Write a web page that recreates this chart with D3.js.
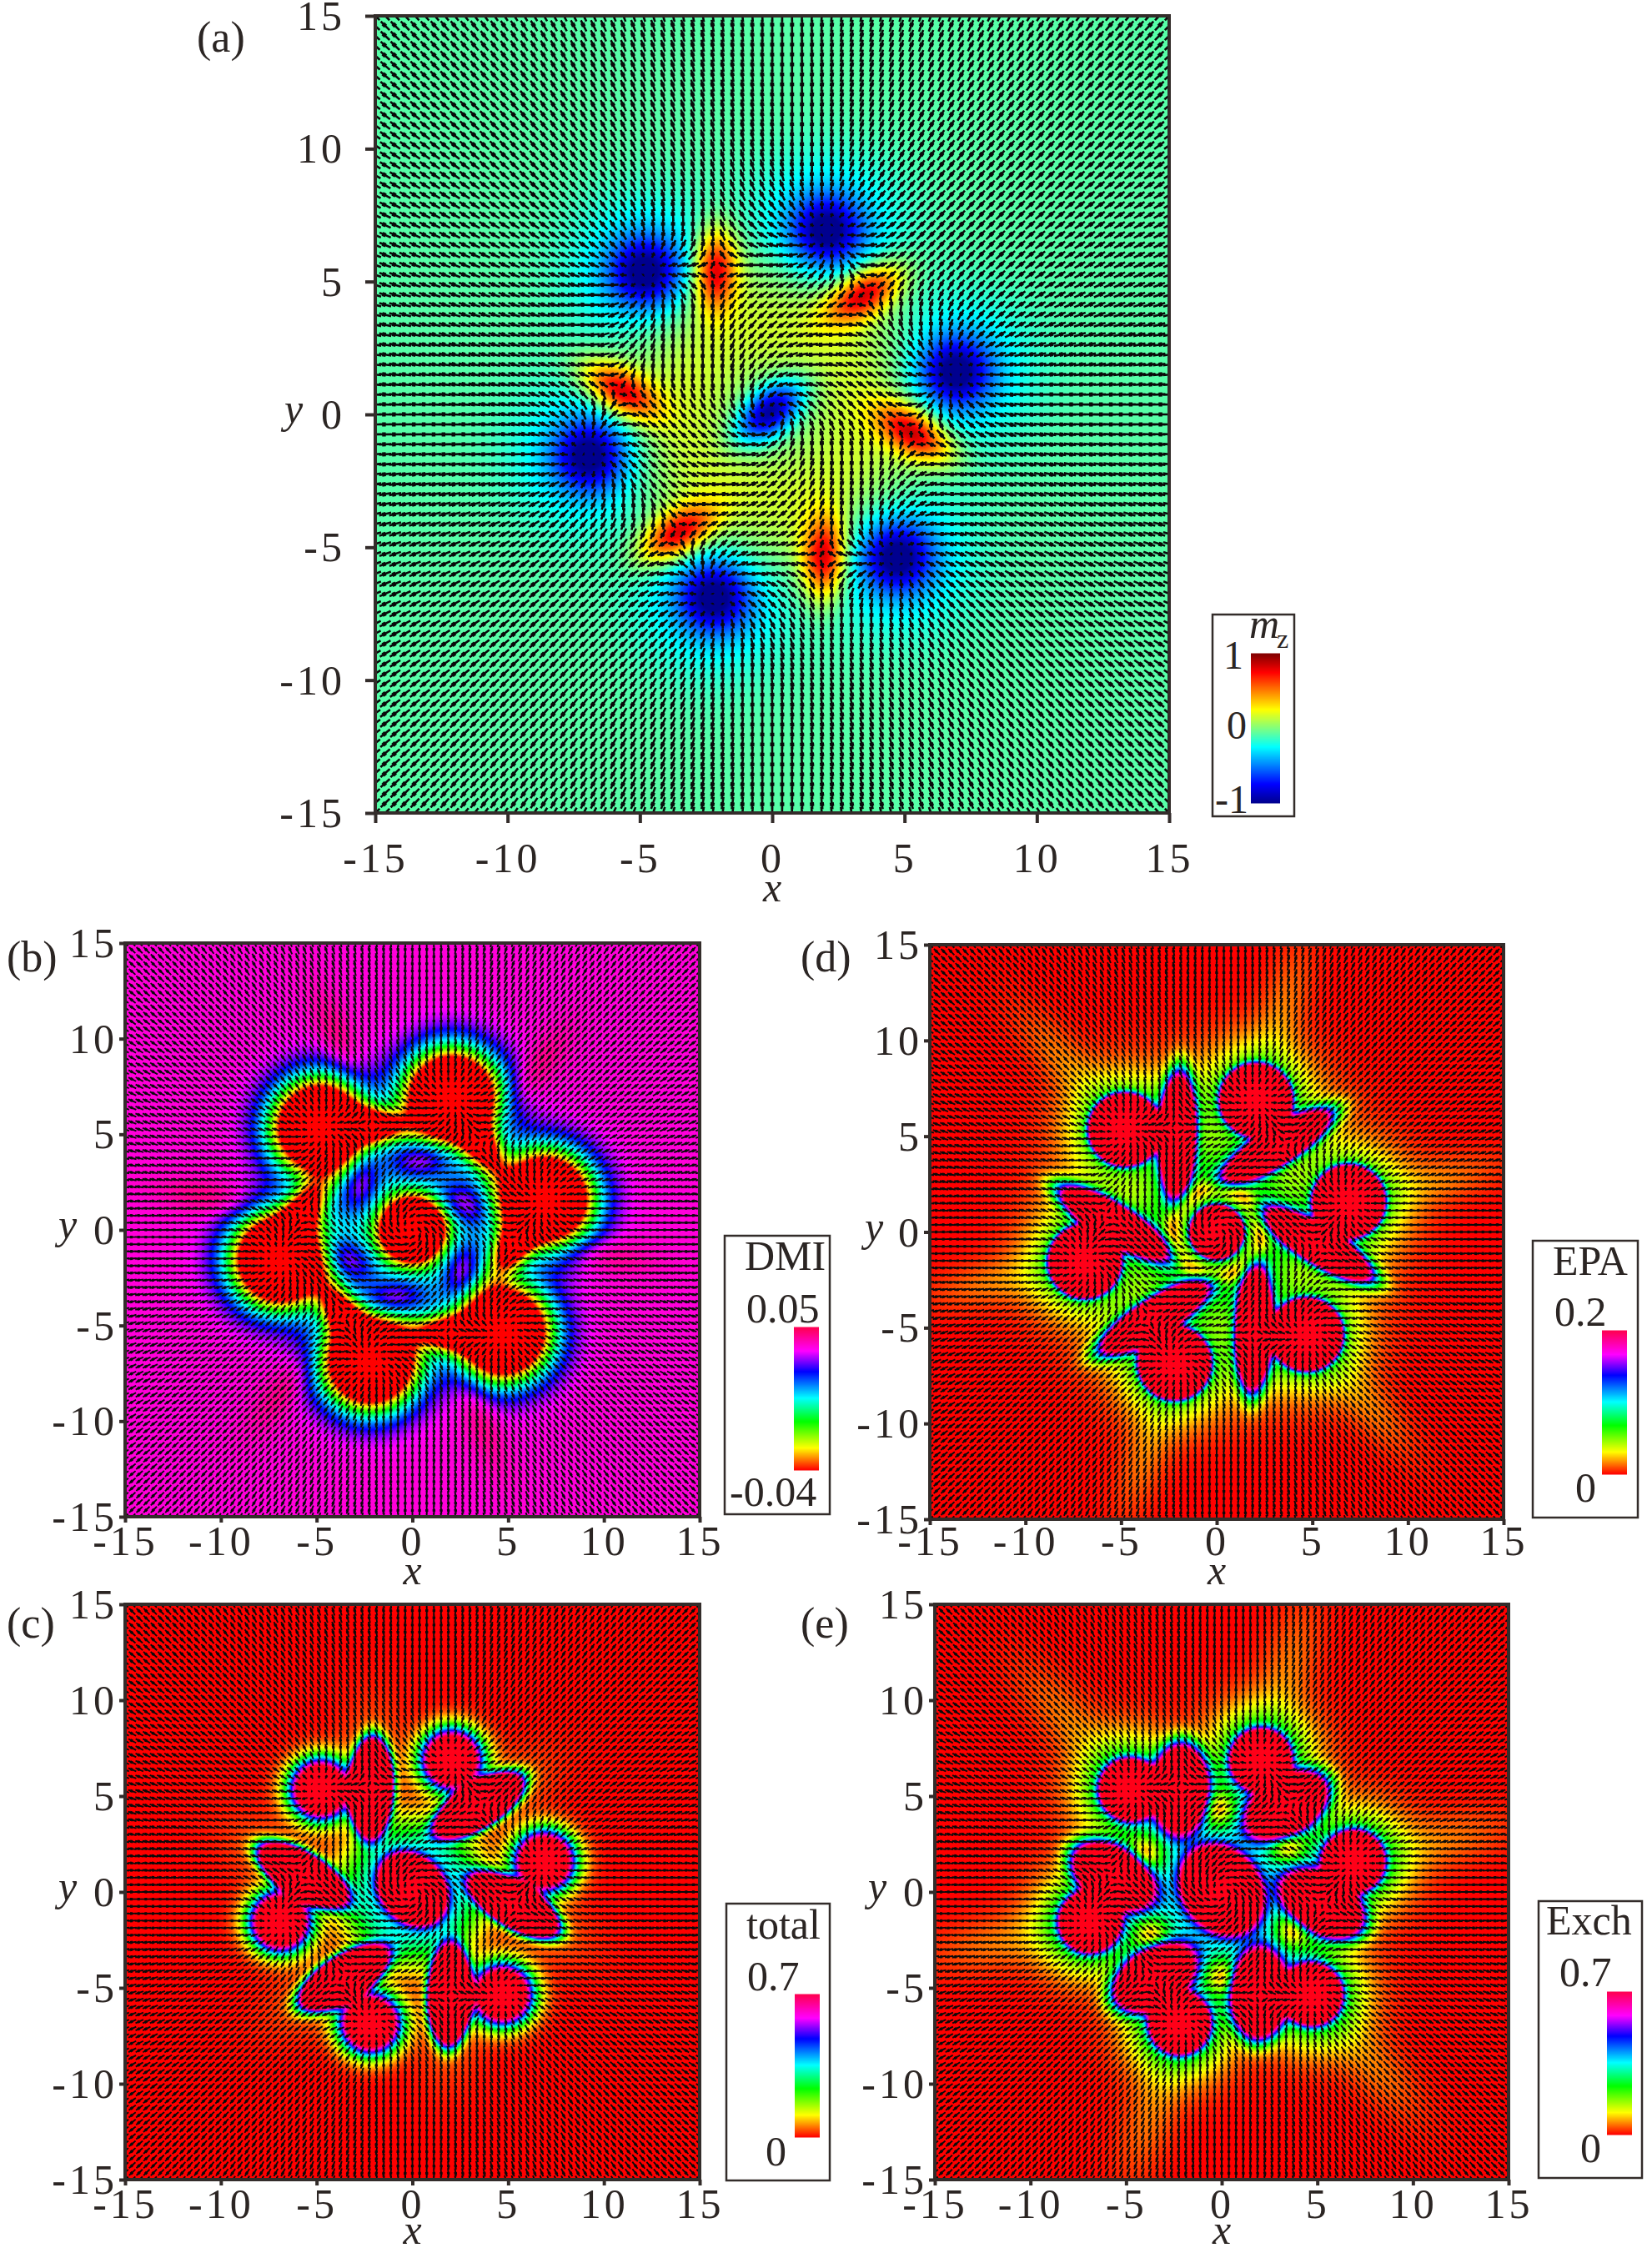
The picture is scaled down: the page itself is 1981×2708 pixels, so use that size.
<!DOCTYPE html>
<html>
<head>
<meta charset="utf-8">
<script src="https://cdn.jsdelivr.net/npm/d3@7"></script>
<style>
body { margin: 0; background: #fff; }
text { font-family: "Liberation Serif", serif; fill: #2b2523; }
</style>
</head>
<body>
<div id="chart"></div>
<script>
// features, in plot units
var vortexX = [-4.8, 2.05, 6.9, 4.7, -2.2, -6.9];
var vortexY = [5.35, 6.9, 1.6, -5.35, -6.85, -1.55];
var antiX = [-2.15, 3.5, 5.35, 1.95, -3.6, -5.75];
var antiY = [5.45, 4.55, -0.7, -5.4, -4.5, 0.9];
var antiDeg = [88, 32, -32, 88, 32, -32];
var leafX = [-2.05, 3.2, 5.35, 1.95, -3.3, -5.4];
var leafY = [5.1, 4.5, -0.7, -5.1, -4.5, 0.5];
var diamondX = [-2.7, 0.6, 2.8, 2.55, -1.05, -3.55];
var diamondY = [2.6, 3.7, 1.3, -2.3, -3.6, -1.4];
var diamondDeg = [80, 15, -30, 80, 15, -30];
var holeX = [-0.2, 3.4, 3.7, 0, -3.7, -4];
var holeY = [4.3, 2.4, -2, -4.4, -2.2, 2];

var axisTicks = [-15, -10, -5, 0, 5, 10, 15];
var gridCount = 81;

// colour bars
var jetStops = [0, 0.125, 0.375, 0.625, 0.875, 1];
var jetColors = ["#00008f", "#0000ff", "#00ffff", "#ffff00", "#ff0000", "#800000"];
var hueStops = [0, 0.155, 0.34, 0.505, 0.69, 0.835, 1, 1.12];
var hueColors = ["#ff0000", "#ffff00", "#00ff00", "#00ffff", "#0000ff", "#ff00ff", "#ff0050", "#ff0018"];

var jet = d3.scaleLinear().domain(jetStops).range(jetColors).clamp(true);
var hue = d3.scaleLinear().domain(hueStops).range(hueColors).clamp(true);

// one bump: x, y, sx, sy, angle, amplitude, power, ring radius
function blob(x, y, sx, sy, deg, amp, p, r0) {
  var a = deg * Math.PI / 180;
  return {x: x, y: y, sx: sx, sy: sy, c: Math.cos(a), s: Math.sin(a), amp: amp, p: p || 2, r0: r0 || 0};
}
function sumBlobs(list, base, px, py) {
  var v = base;
  list.forEach(function(b) {
    var dx = px - b.x, dy = py - b.y;
    var u = (dx * b.c + dy * b.s) / b.sx, w = (-dx * b.s + dy * b.c) / b.sy;
    var d = Math.sqrt(u * u + w * w);
    if (b.r0) d = Math.abs(d - b.r0);
    v += b.amp * Math.exp(-Math.pow(d, b.p));
  });
  return v;
}
function each(xs, ys, fn) {
  return xs.map(function(x, i) { return fn(x, ys[i], i); });
}
function rays(amp, len, wide) {
  return each(vortexX, vortexY, function(x, y) {
    return blob(x * 1.7, y * 1.7, len, wide, Math.atan2(y, x) * 180 / Math.PI, amp);
  });
}

var blobsMz = [].concat(
  [blob(0, 0, 5.9, 5.9, 0, 0.36, 4)],
  each(vortexX, vortexY, function(x, y) { return blob(x, y, 1.25, 1.25, 0, -0.75); }),
  each(vortexX, vortexY, function(x, y) { return blob(x, y, 2.6, 2.6, 0, -0.33); }),
  each(antiX, antiY, function(x, y, i) { return blob(x, y, 1.5, 0.8, antiDeg[i], 0.88); }),
  [blob(-0.1, 0.1, 1.4, 0.8, 40, -0.95), blob(0, 0, 2.6, 2.6, 0, -0.3)]
);

var blobsDmi = [].concat(
  [blob(0, 0, 4.2, 4.2, 0, -0.42, 4)],
  each(vortexX, vortexY, function(x, y) { return blob(x, y, 2.3, 2.3, 0, -2.1); }),
  each(antiX, antiY, function(x, y, i) { return blob(x, y, 0.85, 1.8, antiDeg[i], -0.9); }),
  each(diamondX, diamondY, function(x, y, i) { return blob(x, y, 1.6, 1.0, diamondDeg[i], 0.32); }),
  [blob(0, 0, 1.3, 1.3, 0, -2.5)],
  each(antiX, antiY, function(x, y, i) {
    return blob(x * 1.75, y * 1.75, 3, 0.9, Math.atan2(y, x) * 180 / Math.PI, 0.1);
  })
);

var blobsTotal = [].concat(
  [blob(0, 0, 3.7, 3.7, 0, 0.5, 4)],
  each(vortexX, vortexY, function(x, y) { return blob(x, y, 1.3, 1.3, 0, 2.7); }),
  each(antiX, antiY, function(x, y, i) { return blob(x, y, 2.4, 1.05, antiDeg[i], 3, 4); }),
  each(antiX, antiY, function(x, y, i) { return blob(x, y, 3.6, 1.6, antiDeg[i], 0.12); }),
  [blob(0, 0.15, 1.75, 1.4, -50, 3, 4)]
);

var blobsEpa = [].concat(
  [blob(0, 0, 4.2, 4.2, 0, 0.3, 5), blob(0, 0, 0.55, 0.55, 0, -0.28, 2, 4.2)],
  each(vortexX, vortexY, function(x, y) { return blob(x, y, 1.75, 1.75, 0, 3, 6); }),
  each(vortexX, vortexY, function(x, y) { return blob(x, y, 2.6, 2.6, 0, 0.5); }),
  each(leafX, leafY, function(x, y, i) { return blob(x, y, 2.8, 0.82, antiDeg[i], 3, 3); }),
  each(leafX, leafY, function(x, y, i) { return blob(x, y, 3.2, 1.5, antiDeg[i], 0.18); }),
  [blob(0, 0, 1.3, 1.3, 0, 3, 6)],
  rays(0.07, 3.2, 1.2)
);

var blobsExch = [].concat(
  [blob(0, 0, 5.8, 5.8, 0, 0.3, 6), blob(0, 0, 3.8, 3.8, 0, 0.25, 4)],
  each(vortexX, vortexY, function(x, y) { return blob(x, y, 1.4, 1.4, 0, 3, 4); }),
  each(vortexX, vortexY, function(x, y) { return blob(x, y, 2.4, 2.4, 0, 0.6); }),
  each(antiX, antiY, function(x, y, i) { return blob(x, y, 2.0, 1.25, antiDeg[i], 3, 3); }),
  each(holeX, holeY, function(x, y) { return blob(x, y, 0.9, 0.9, 0, -0.3); }),
  [blob(0, 0.1, 2.1, 1.7, -55, 3, 4)],
  rays(0.07, 3.4, 1.4)
);

// in-plane direction: vortices wind up, antivortices wind down
function angleAt(px, py) {
  var phi = Math.atan2(py, px);
  vortexX.forEach(function(x, i) { phi += Math.atan2(py - vortexY[i], px - x); });
  antiX.forEach(function(x, i) { phi -= Math.atan2(py - antiY[i], px - x); });
  return phi;
}

var panels = [
  {tag: "(a)", tagX: 236, tagY: 62, left: 450, right: 1402, top: 19, bottom: 975,
   blobs: blobsMz, base: -0.08, toColor: function(v) { return jet((v + 1) / 2); },
   shaft: 2.6, head: 5, reach: 0.62, tick: 12, yPad: 40, xBase: 71, xLabel: 106, yLabelX: 352,
   bar: {x0: 1500, x1: 1535, y0: 784, y1: 963, color: jet},
   box: [1454, 737, 1552, 979]},
  {tag: "(b)", tagX: 8, tagY: 1165, left: 150, right: 839, top: 1131, bottom: 1819,
   blobs: blobsDmi, base: 0.87, toColor: hue,
   shaft: 1.9, head: 3.4, reach: 0.6, tick: 7, yPad: 13, xBase: 46, xLabel: 81, yLabelX: 81,
   bar: {x0: 952, x1: 982, y0: 1592, y1: 1763, color: hue},
   box: [869, 1482, 995, 1816]},
  {tag: "(c)", tagX: 8, tagY: 1964, left: 150, right: 839, top: 1924, bottom: 2614,
   blobs: blobsTotal, base: 0, toColor: hue,
   shaft: 1.9, head: 3.4, reach: 0.6, tick: 7, yPad: 13, xBase: 46, xLabel: 77, yLabelX: 81,
   bar: {x0: 953, x1: 983, y0: 2392, y1: 2563, color: hue},
   box: [871, 2283, 995, 2615]},
  {tag: "(d)", tagX: 960, tagY: 1165, left: 1115, right: 1803, top: 1133, bottom: 1822,
   blobs: blobsEpa, base: 0, toColor: hue,
   shaft: 1.9, head: 3.4, reach: 0.6, tick: 7, yPad: 13, xBase: 43, xLabel: 78, yLabelX: 1048,
   bar: {x0: 1921, x1: 1951, y0: 1596, y1: 1768, color: hue},
   box: [1838, 1488, 1964, 1820]},
  {tag: "(e)", tagX: 960, tagY: 1964, left: 1121, right: 1809, top: 1924, bottom: 2614,
   blobs: blobsExch, base: 0, toColor: hue,
   shaft: 1.9, head: 3.4, reach: 0.6, tick: 7, yPad: 13, xBase: 46, xLabel: 77, yLabelX: 1052,
   bar: {x0: 1927, x1: 1957, y0: 2389, y1: 2560, color: hue},
   box: [1845, 2280, 1969, 2612]}
];

// colour bar texts: label, x, baseline, size, italic
var barTexts = [
  ["m", 1498, 765, 50, true], ["z", 1531, 777, 32, false], ["1", 1467, 802, 48], ["0", 1471, 886, 48], ["-1", 1457, 975, 48],
  ["DMI", 893, 1523, 50], ["0.05", 895, 1586, 50], ["-0.04", 875, 1806, 50],
  ["total", 895, 2325, 50], ["0.7", 896, 2387, 50], ["0", 918, 2597, 50],
  ["EPA", 1862, 1529, 50], ["0.2", 1864, 1590, 50], ["0", 1889, 1801, 50],
  ["Exch", 1854, 2320, 50], ["0.7", 1870, 2382, 50], ["0", 1895, 2593, 50]
];

var svg = d3.select("#chart").append("svg").attr("width", 1981).attr("height", 2708);

panels.forEach(function(p, n) {
  var x = d3.scaleLinear().domain([-15, 15]).range([p.left, p.right]);
  var y = d3.scaleLinear().domain([-15, 15]).range([p.bottom, p.top]);

  // heat map goes on a small canvas and gets stretched
  var cells = 340;
  var cell = d3.scaleLinear().domain([0, cells]).range([-15, 15]);
  var canvas = document.createElement("canvas");
  canvas.width = cells; canvas.height = cells;
  var ctx = canvas.getContext("2d");
  d3.range(cells).forEach(function(j) {
    d3.range(cells).forEach(function(i) {
      ctx.fillStyle = p.toColor(sumBlobs(p.blobs, p.base, cell(i + 0.5), -cell(j + 0.5)));
      ctx.fillRect(i, j, 1, 1);
    });
  });
  svg.append("image")
    .attr("href", canvas.toDataURL())
    .attr("x", x(-15)).attr("y", y(15))
    .attr("width", x(15) - x(-15)).attr("height", y(-15) - y(15))
    .attr("preserveAspectRatio", "none");

  svg.append("clipPath").attr("id", "clip" + n).append("rect")
    .attr("x", x(-15)).attr("y", y(15))
    .attr("width", x(15) - x(-15)).attr("height", y(-15) - y(15));

  // arrows, one path each for shafts and heads
  var grid = d3.scalePoint().domain(d3.range(gridCount)).range([-15, 15]);
  var shafts = d3.path(), heads = d3.path();
  var step = 30 / (gridCount - 1);
  d3.range(gridCount).forEach(function(j) {
    d3.range(gridCount).forEach(function(i) {
      var px = grid(i), py = grid(j);
      var mz = Math.max(-1, Math.min(1, sumBlobs(blobsMz, -0.08, px, py)));
      var len = step * p.reach * Math.sqrt(1 - mz * mz * 0.98);
      var phi = angleAt(px, py);
      var cx = Math.cos(phi) * len, cy = Math.sin(phi) * len;
      shafts.moveTo(x(px - cx), y(py - cy));
      shafts.lineTo(x(px + cx), y(py + cy));
      heads.moveTo(x(px - cx * 0.1), y(py - cy * 0.1));
      heads.lineTo(x(px + cx * 0.5), y(py + cy * 0.5));
    });
  });
  var arrows = svg.append("g").attr("clip-path", "url(#clip" + n + ")");
  arrows.append("path").attr("d", shafts.toString()).attr("fill", "none")
    .attr("stroke", "#0a0a0a").attr("stroke-width", p.shaft);
  arrows.append("path").attr("d", heads.toString()).attr("fill", "none")
    .attr("stroke", "#0a0a0a").attr("stroke-width", p.head);

  // frame and axes
  svg.append("rect").attr("x", x(-15)).attr("y", y(15))
    .attr("width", x(15) - x(-15)).attr("height", y(-15) - y(15))
    .attr("fill", "none").attr("stroke", "#332c2a").attr("stroke-width", 4);

  var bottom = svg.append("g").attr("transform", "translate(0," + y(-15) + ")")
    .call(d3.axisBottom(x).tickValues(axisTicks).tickFormat(String).tickSize(p.tick));
  var left = svg.append("g").attr("transform", "translate(" + x(-15) + ",0)")
    .call(d3.axisLeft(y).tickValues(axisTicks).tickFormat(String).tickSize(p.tick));
  [bottom, left].forEach(function(a) {
    a.select(".domain").remove();
    a.selectAll("line").attr("stroke", "#332c2a").attr("stroke-width", 4);
    a.selectAll("text").style("font-size", "50px").style("letter-spacing", "4px")
      .style("font-family", "Liberation Serif").attr("fill", "#2b2523");
  });
  bottom.selectAll("text").attr("dy", 0).attr("y", p.xBase);
  left.selectAll("text").attr("dy", "0.33em").attr("x", -p.yPad + 4);

  svg.append("text").attr("x", (x(-15) + x(15)) / 2).attr("y", y(-15) + p.xLabel)
    .attr("text-anchor", "middle").attr("font-style", "italic").attr("font-size", 50).text("x");
  svg.append("text").attr("x", p.yLabelX).attr("y", y(0) + 10)
    .attr("text-anchor", "middle").attr("font-style", "italic").attr("font-size", 50).text("y");
  svg.append("text").attr("x", p.tagX).attr("y", p.tagY).attr("font-size", 52).text(p.tag);

  // colour bar
  svg.append("rect").attr("x", p.box[0]).attr("y", p.box[1])
    .attr("width", p.box[2] - p.box[0]).attr("height", p.box[3] - p.box[1])
    .attr("fill", "#fff").attr("stroke", "#332c2a").attr("stroke-width", 2.5);
  var barY = d3.scaleLinear().domain([0, 1]).range([p.bar.y1, p.bar.y0]);
  svg.append("g").selectAll("rect").data(d3.range(0, 1, 0.005)).enter().append("rect")
    .attr("x", p.bar.x0).attr("width", p.bar.x1 - p.bar.x0)
    .attr("y", function(d) { return barY(d + 0.005) - 0.5; })
    .attr("height", barY(0) - barY(0.005) + 1)
    .attr("fill", function(d) { return p.bar.color(d); });
});

svg.append("g").selectAll("text").data(barTexts).enter().append("text")
  .attr("x", function(d) { return d[1]; })
  .attr("y", function(d) { return d[2]; })
  .attr("font-size", function(d) { return d[3]; })
  .attr("font-style", function(d) { return d[4] ? "italic" : "normal"; })
  .text(function(d) { return d[0]; });
</script>
</body>
</html>
